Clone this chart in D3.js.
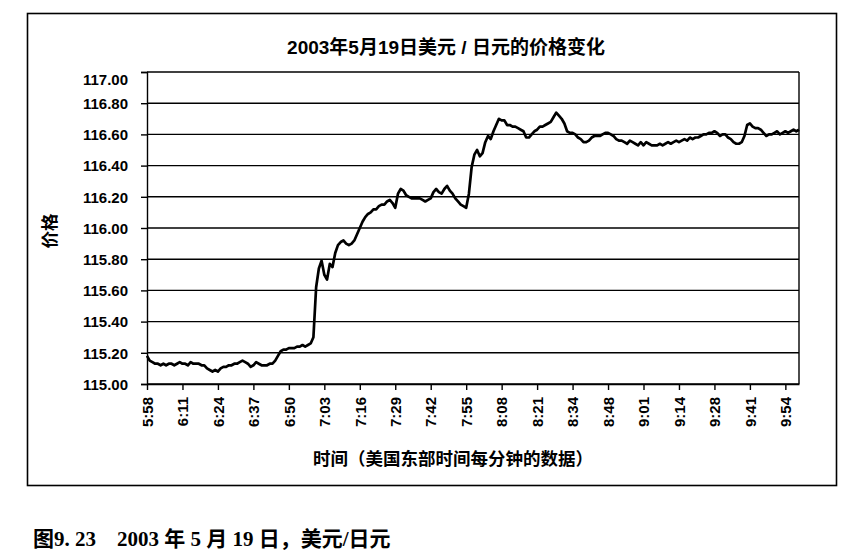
<!DOCTYPE html>
<html>
<head>
<meta charset="utf-8">
<script src="https://cdn.jsdelivr.net/npm/d3@7"></script>
<style>
  body { margin: 0; background: #fff; }
  svg { display: block; }
</style>
</head>
<body>
<div id="chart"></div>
<script>
// Texts
const titleText = '2003年5月19日美元 / 日元的价格变化';
const yTitleText = '价格';
const xTitleText = '时间（美国东部时间每分钟的数据）';
const captionText = '图9. 23    2003 年 5 月 19 日，美元/日元';

// Category axis: one point per minute quote, label every 13th point
const tickLabels = ['5:58', '6:11', '6:24', '6:37', '6:50', '7:03', '7:16', '7:29', '7:42', '7:55',
  '8:08', '8:21', '8:34', '8:48', '9:01', '9:14', '9:28', '9:41', '9:54'];
const tickEvery = 13;
const yTicks = [115.0, 115.2, 115.4, 115.6, 115.8, 116.0, 116.2, 116.4, 116.6, 116.8, 117.0];

// USD/JPY price
const prices = [
  115.18, 115.15, 115.14, 115.13, 115.13, 115.12, 115.13, 115.12, 115.13, 115.13, 115.12, 115.13, 115.14,
  115.13, 115.13, 115.12, 115.14, 115.13, 115.13, 115.13, 115.12, 115.12, 115.10, 115.09, 115.08, 115.09,
  115.08, 115.10, 115.11, 115.11, 115.12, 115.12, 115.13, 115.13, 115.14, 115.15, 115.14, 115.13, 115.11,
  115.12, 115.14, 115.13, 115.12, 115.12, 115.12, 115.13, 115.13, 115.15, 115.18, 115.21, 115.22, 115.22,
  115.23, 115.23, 115.23, 115.24, 115.24, 115.25, 115.24, 115.25, 115.26, 115.30, 115.62, 115.74, 115.79,
  115.70, 115.67, 115.77, 115.75, 115.84, 115.89, 115.91, 115.92, 115.90, 115.89, 115.90, 115.92, 115.96,
  116.00, 116.04, 116.07, 116.09, 116.10, 116.12, 116.12, 116.14, 116.15, 116.15, 116.17, 116.18, 116.16,
  116.13, 116.22, 116.25, 116.24, 116.21, 116.20, 116.19, 116.19, 116.19, 116.19, 116.18, 116.17, 116.18,
  116.19, 116.23, 116.25, 116.23, 116.22, 116.25, 116.27, 116.24, 116.22, 116.19, 116.17, 116.15, 116.14,
  116.13, 116.22, 116.39, 116.47, 116.50, 116.46, 116.48, 116.55, 116.59, 116.57, 116.62, 116.66, 116.70,
  116.69, 116.69, 116.66, 116.66, 116.65, 116.65, 116.64, 116.63, 116.62, 116.58, 116.58, 116.60, 116.62,
  116.63, 116.65, 116.65, 116.66, 116.67, 116.68, 116.71, 116.74, 116.72, 116.70, 116.67, 116.62, 116.61,
  116.61, 116.60, 116.58, 116.57, 116.55, 116.55, 116.56, 116.58, 116.59, 116.59, 116.59, 116.60, 116.61,
  116.61, 116.60, 116.59, 116.57, 116.56, 116.56, 116.55, 116.54, 116.56, 116.55, 116.54, 116.53, 116.55,
  116.53, 116.55, 116.54, 116.53, 116.53, 116.53, 116.54, 116.53, 116.54, 116.55, 116.54, 116.55, 116.56,
  116.55, 116.56, 116.57, 116.56, 116.58, 116.57, 116.58, 116.58, 116.59, 116.60, 116.60, 116.61, 116.61,
  116.62, 116.61, 116.59, 116.60, 116.60, 116.58, 116.57, 116.55, 116.54, 116.54, 116.55, 116.59, 116.66,
  116.67, 116.65, 116.64, 116.64, 116.63, 116.61, 116.59, 116.60, 116.60, 116.61, 116.62, 116.60, 116.61,
  116.62, 116.61, 116.62, 116.63, 116.62, 116.63
];

const width = 862;
const height = 559;
const plot = { left: 147, right: 799, top: 72, bottom: 384 };
const sans = "'Liberation Sans', Arial, 'Noto Sans CJK SC', sans-serif";
const serif = "'Liberation Serif', 'Times New Roman', 'Noto Sans CJK SC', serif";

const svg = d3.select('#chart')
  .append('svg')
  .attr('width', width)
  .attr('height', height);

// Outer frame
svg.append('rect')
  .attr('x', 27.5).attr('y', 13.5)
  .attr('width', 809).attr('height', 472)
  .attr('fill', 'none')
  .attr('stroke', '#000')
  .attr('stroke-width', 1.6);

const x = d3.scaleLinear()
  .domain([0, prices.length - 1])
  .range([plot.left, plot.right]);

const y = d3.scaleLinear()
  .domain([115, 117])
  .range([plot.bottom, plot.top]);

// Horizontal gridlines
svg.append('g')
  .selectAll('line')
  .data(yTicks)
  .join('line')
  .attr('x1', plot.left).attr('x2', plot.right)
  .attr('y1', d => y(d)).attr('y2', d => y(d))
  .attr('stroke', '#000')
  .attr('stroke-width', 1.4);

// Right edge of plot area
svg.append('line')
  .attr('x1', plot.right).attr('x2', plot.right)
  .attr('y1', plot.top).attr('y2', plot.bottom)
  .attr('stroke', '#000')
  .attr('stroke-width', 1.4);

// Y axis
const yAxis = svg.append('g')
  .attr('transform', `translate(${plot.left},0)`)
  .call(d3.axisLeft(y)
    .tickValues(yTicks)
    .tickFormat(d3.format('.2f'))
    .tickSize(6)
    .tickPadding(13));

yAxis.selectAll('path, line').attr('stroke', '#000').attr('stroke-width', 1.4);
yAxis.selectAll('text')
  .attr('font-family', sans)
  .attr('font-size', 15)
  .attr('font-weight', 'bold')
  .attr('fill', '#000')
  .attr('dy', d => d === 117 ? '0.85em' : '0.35em');

// X axis, category ticks every 13 points
const tickIdx = tickLabels.map((_, i) => i * tickEvery);
const xAxis = svg.append('g')
  .attr('transform', `translate(0,${plot.bottom})`)
  .call(d3.axisBottom(x)
    .tickValues(tickIdx)
    .tickFormat((d, i) => tickLabels[i])
    .tickSize(6)
    .tickSizeOuter(0));

xAxis.selectAll('path, line').attr('stroke', '#000').attr('stroke-width', 1.4);
xAxis.selectAll('text')
  .attr('font-family', sans)
  .attr('font-size', 15)
  .attr('font-weight', 'bold')
  .attr('fill', '#000')
  .attr('text-anchor', 'end')
  .attr('y', 0)
  .attr('dy', '0.35em')
  .attr('transform', 'translate(0,13) rotate(-90)');

// Price line
const line = d3.line()
  .x((d, i) => x(i))
  .y(d => y(d));

svg.append('path')
  .datum(prices)
  .attr('d', line)
  .attr('fill', 'none')
  .attr('stroke', '#000')
  .attr('stroke-width', 2.7)
  .attr('stroke-linejoin', 'round');

// Titles
svg.append('text')
  .attr('x', 446).attr('y', 54)
  .attr('text-anchor', 'middle')
  .attr('font-family', sans)
  .attr('font-size', 19)
  .attr('font-weight', 'bold')
  .text(titleText);

svg.append('text')
  .attr('transform', 'translate(56,231) rotate(-90)')
  .attr('text-anchor', 'middle')
  .attr('font-family', sans)
  .attr('font-size', 17.5)
  .attr('font-weight', 'bold')
  .text(yTitleText);

svg.append('text')
  .attr('x', 453).attr('y', 465)
  .attr('text-anchor', 'middle')
  .attr('font-family', sans)
  .attr('font-size', 17.5)
  .attr('font-weight', 'bold')
  .text(xTitleText);

// Figure caption below the frame
svg.append('text')
  .attr('x', 33).attr('y', 546)
  .attr('font-family', serif)
  .attr('font-size', 21)
  .attr('font-weight', 'bold')
  .style('white-space', 'pre')
  .text(captionText);
</script>
</body>
</html>
